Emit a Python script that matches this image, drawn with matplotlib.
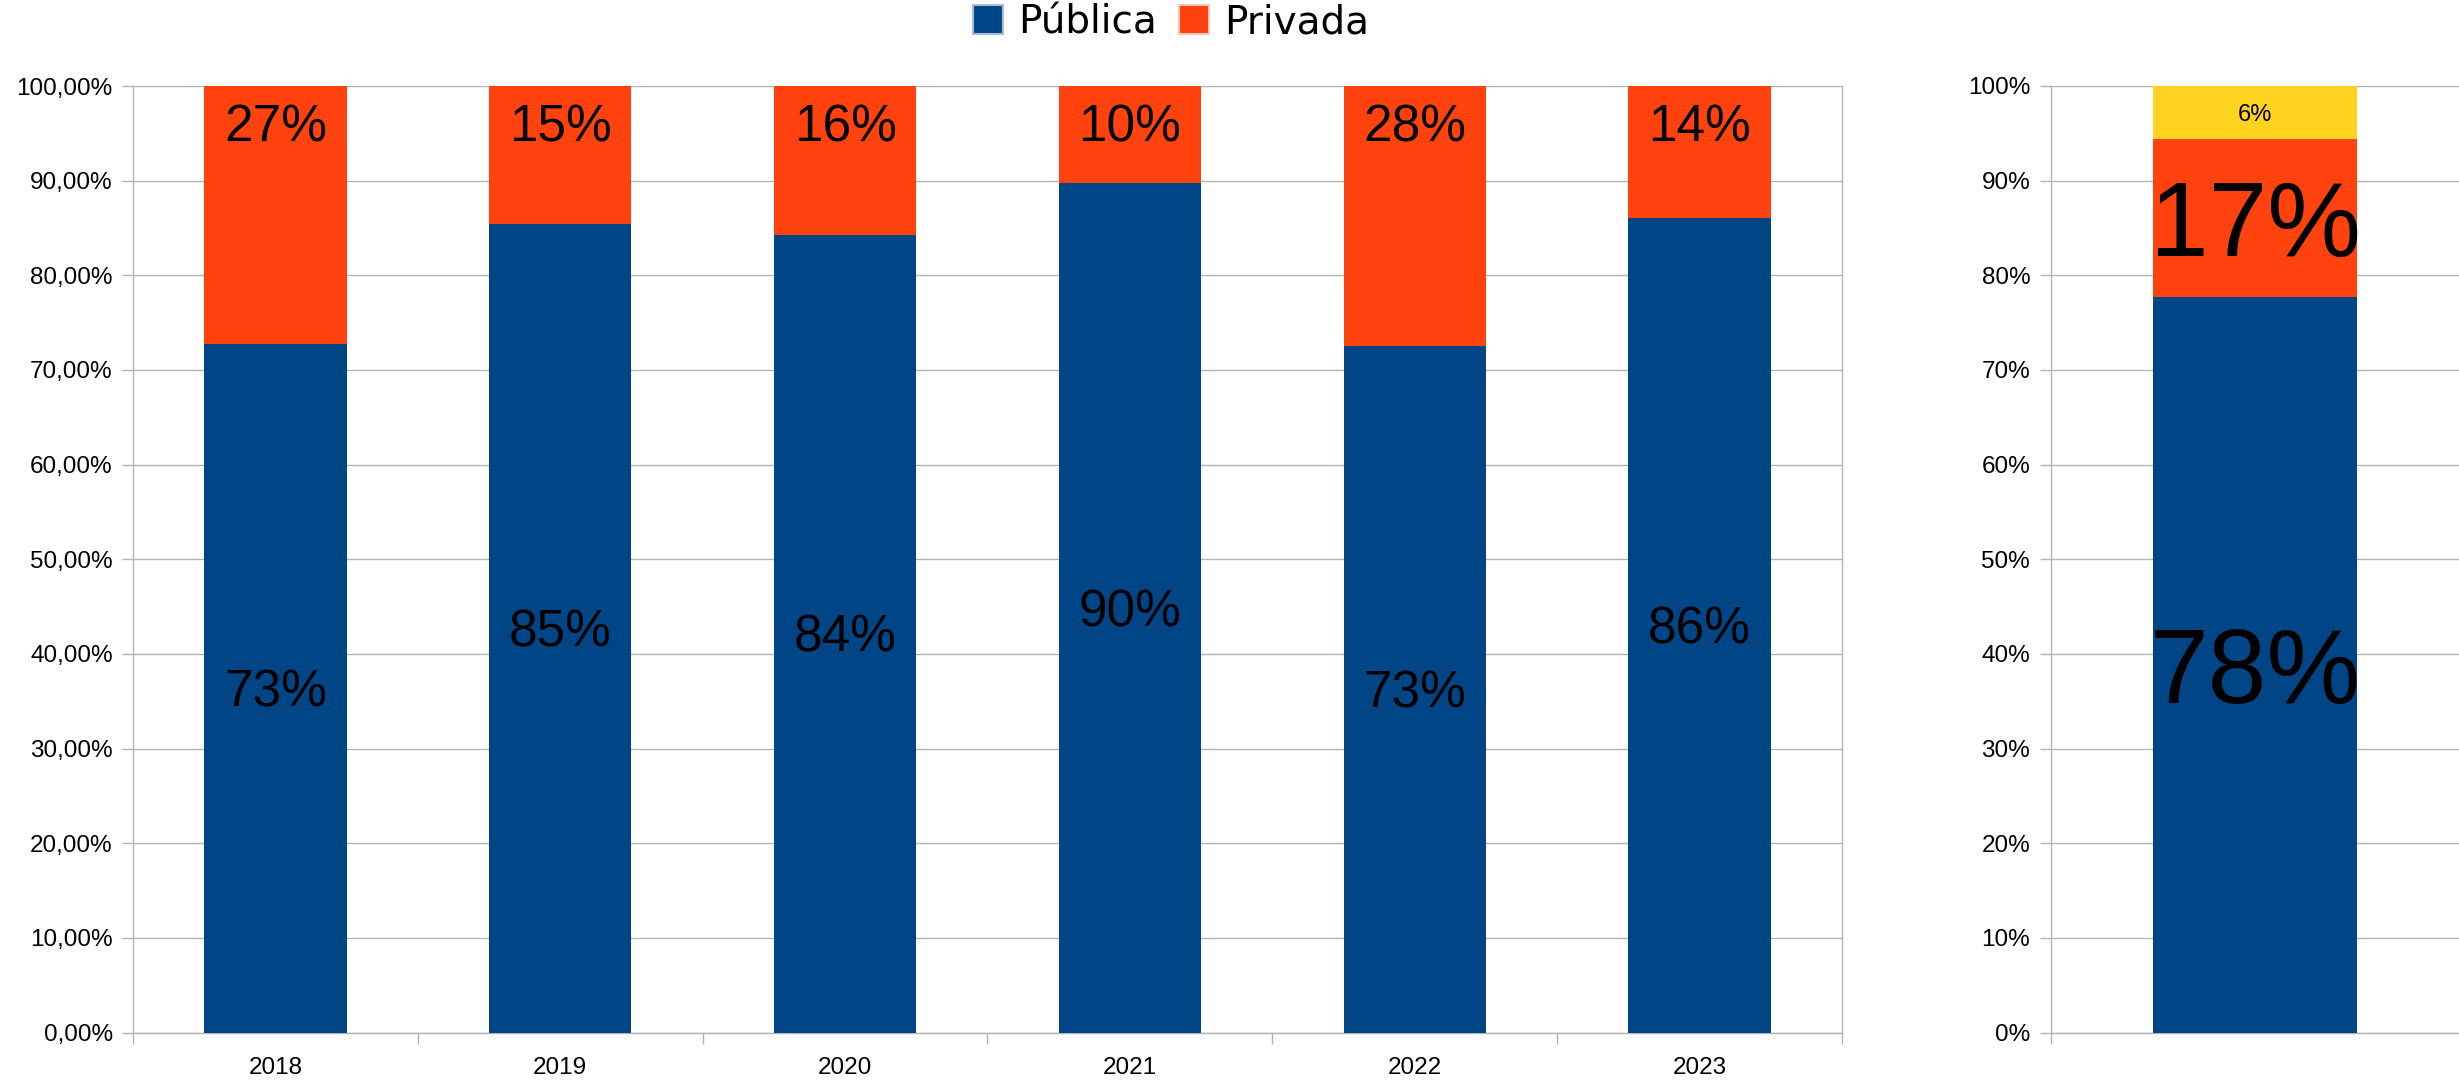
import matplotlib
matplotlib.use("Agg")
import matplotlib.pyplot as plt
from matplotlib.ticker import FuncFormatter, FixedLocator
from matplotlib.patches import Patch

plt.rcParams['font.family'] = ['Liberation Sans', 'DejaVu Sans']

# ---- data ----
years = ['2018', '2019', '2020', '2021', '2022', '2023']
publica = [72.7, 85.4, 84.3, 89.7, 72.5, 86.1]
privada = [27.3, 14.6, 15.7, 10.3, 27.5, 13.9]
publica_labels = ['73%', '85%', '84%', '90%', '73%', '86%']
privada_labels = ['27%', '15%', '16%', '10%', '28%', '14%']

total_values = [77.7, 16.7, 5.6]
total_labels = ['78%', '17%', '6%']

series_names = ['Pública', 'Privada']
c_blue = '#004586'
c_orange = '#ff420e'
c_yellow = '#ffd320'
grid_c = '#b3b3b3'

W, H = 2459, 1082
fig = plt.figure(figsize=(W / 100, H / 100), dpi=100)

ax1 = fig.add_axes([133 / W, 1 - 1032.5 / H, (1842 - 133) / W, (1032.5 - 86) / H])
ax2 = fig.add_axes([2051 / W, 1 - 1032.5 / H, (W - 2051) / W, (1032.5 - 86) / H])

x = list(range(len(years)))
ax1.bar(x, publica, width=0.5, color=c_blue, zorder=3)
ax1.bar(x, privada, width=0.5, bottom=publica, color=c_orange, zorder=3)

lab_fs = 37
cap = lab_fs * 0.716
for i in x:
    ax1.annotate(publica_labels[i], xy=(i, publica[i] / 2), xytext=(0, -cap / 2),
                 textcoords='offset points', ha='center', va='baseline',
                 fontsize=lab_fs, color='black', zorder=5)
    ax1.text(i, 94.1, privada_labels[i], ha='center', va='baseline',
             fontsize=lab_fs, color='black', zorder=5)

ax1.set_xlim(-0.5, len(years) - 0.5)
ax1.set_ylim(0, 100)
ax1.set_yticks([0, 10, 20, 30, 40, 50, 60, 70, 80, 90, 100])
ax1.yaxis.set_major_formatter(FuncFormatter(lambda v, p: ('%.2f%%' % v).replace('.', ',')))
ax1.set_xticks(x)
ax1.set_xticklabels(years)
ax1.xaxis.set_minor_locator(FixedLocator([i - 0.5 for i in range(len(years) + 1)]))
ax1.tick_params(axis='x', which='major', length=0, pad=18, labelsize=17.5)
ax1.tick_params(axis='x', which='minor', length=8, width=1.0, color=grid_c)
ax1.tick_params(axis='y', which='major', length=8, width=1.0, color=grid_c, pad=6.5, labelsize=17.5)
ax1.grid(axis='y', color=grid_c, linewidth=1.0, zorder=0)
for s in ['left', 'right', 'bottom']:
    ax1.spines[s].set_color(grid_c)
    ax1.spines[s].set_linewidth(1.0)
ax1.spines['top'].set_visible(False)

# right panel
bottom = 0
colors = [c_blue, c_orange, c_yellow]
sizes = [76, 76, 17]
for v, lab, c, fs in zip(total_values, total_labels, colors, sizes):
    ax2.bar([0], [v], width=0.5, bottom=bottom, color=c, zorder=3)
    ax2.annotate(lab, xy=(0, bottom + v / 2), xytext=(0, -fs * 0.716 / 2),
                 textcoords='offset points', ha='center', va='baseline',
                 fontsize=fs, color='black', zorder=5)
    bottom += v

ax2.set_xlim(-0.5, 0.5)
ax2.set_ylim(0, 100)
ax2.set_yticks([0, 10, 20, 30, 40, 50, 60, 70, 80, 90, 100])
ax2.yaxis.set_major_formatter(FuncFormatter(lambda v, p: '%d%%' % v))
ax2.set_xticks([])
ax2.xaxis.set_minor_locator(FixedLocator([-0.5]))
ax2.tick_params(axis='x', which='minor', length=8, width=1.0, color=grid_c)
ax2.tick_params(axis='y', which='major', length=8, width=1.0, color=grid_c, pad=7, labelsize=17.5)
ax2.grid(axis='y', color=grid_c, linewidth=1.0, zorder=0)
ax2.spines['left'].set_color(grid_c)
ax2.spines['left'].set_linewidth(1.0)
ax2.spines['bottom'].set_color(grid_c)
ax2.spines['bottom'].set_linewidth(1.0)
ax2.spines['top'].set_visible(False)
ax2.spines['right'].set_visible(False)

handles = [Patch(facecolor=c_blue, edgecolor='#a9bcd3', linewidth=1.5),
           Patch(facecolor=c_orange, edgecolor='#ffc6b7', linewidth=1.5)]
fig.legend(handles, series_names, loc='center', bbox_to_anchor=(1171.5 / W, 1 - 22 / H),
           ncol=2, frameon=False, prop={'family': 'DejaVu Sans', 'size': 28},
           handlelength=0.77, handleheight=0.77,
           handletextpad=0.39, columnspacing=0.57, borderpad=0, borderaxespad=0)

fig.savefig('out.png', dpi=100)
